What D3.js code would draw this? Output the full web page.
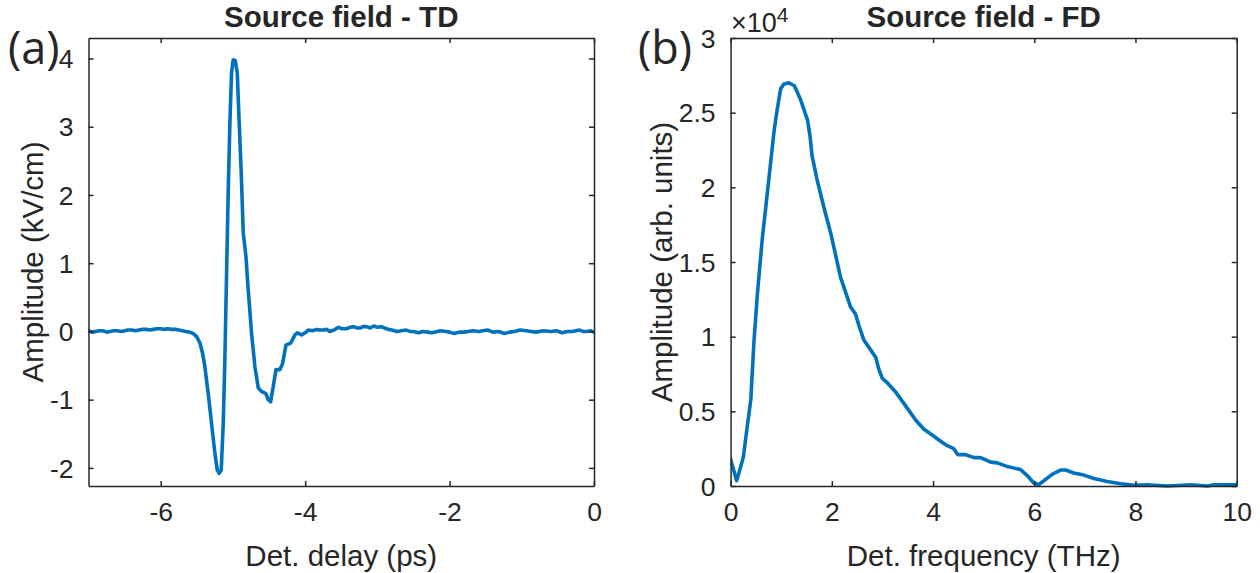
<!DOCTYPE html>
<html>
<head>
<meta charset="utf-8">
<script src="https://cdn.jsdelivr.net/npm/d3@7"></script>
<style>
  html, body { margin: 0; padding: 0; background: #fff; }
  svg { display: block; }
  text { font-family: "Liberation Sans", Arial, Helvetica, sans-serif; fill: #262626; }
</style>
</head>
<body>
<svg id="chart" width="1260" height="573"></svg>
<script>
// ---------- Data ----------
// Time domain: detector delay (ps) and amplitude (kV/cm)
const tdDelay = [
  -7.0, -6.95, -6.9, -6.85, -6.8, -6.75, -6.7, -6.65, -6.6, -6.55, -6.5, -6.45, -6.4, -6.35, -6.3, -6.25,
  -6.2, -6.15, -6.1, -6.05, -6.0, -5.95, -5.9, -5.85, -5.8, -5.75, -5.7, -5.65, -5.6, -5.55, -5.5,
  -5.457, -5.42, -5.388, -5.342, -5.296, -5.249, -5.217, -5.19, -5.162, -5.134, -5.111, -5.088,
  -5.065, -5.042, -5.019, -4.996, -4.968, -4.94, -4.913, -4.885, -4.857, -4.82, -4.788, -4.742,
  -4.695, -4.649, -4.603, -4.543, -4.511, -4.478, -4.442, -4.404, -4.349, -4.312, -4.266, -4.2,
  -4.141, -4.109, -4.049, -4.0, -3.957, -3.9, -3.84, -3.8, -3.75, -3.7, -3.66, -3.6, -3.54, -3.49, -3.43, -3.38,
  -3.33, -3.28, -3.24, -3.2, -3.15, -3.1, -3.05, -3.0, -2.95, -2.9, -2.85, -2.8, -2.73, -2.67, -2.6, -2.55,
  -2.5, -2.43, -2.37, -2.3, -2.25, -2.2, -2.13, -2.05, -2.0, -1.935, -1.87, -1.8, -1.74, -1.68, -1.6,
  -1.54, -1.47, -1.4, -1.32, -1.24, -1.17, -1.1, -1.02, -0.94, -0.87, -0.8, -0.7, -0.6, -0.52,
  -0.446, -0.37, -0.3, -0.25, -0.2, -0.15, -0.1, -0.05, 0.0
];
const tdAmp = [
  0.01, -0.01, 0.00, 0.01, 0.01, -0.01, 0.00, 0.01, 0.01, 0.00, 0.01, 0.02, 0.02, 0.01, 0.02, 0.03,
  0.03, 0.02, 0.03, 0.04, 0.04, 0.03, 0.04, 0.03, 0.03, 0.02, 0.01, 0.00, -0.01, -0.03, -0.08,
  -0.17, -0.32, -0.52, -0.91, -1.35, -1.79, -2.03, -2.08, -2.03, -1.35, -0.37, 0.85,
  2.07, 3.05, 3.79, 3.98, 3.97, 3.79, 3.05, 2.32, 1.44, 1.10, 0.61, -0.03,
  -0.52, -0.83, -0.88, -0.91, -1.00, -1.03, -0.81, -0.56, -0.56, -0.47, -0.20, -0.17,
  -0.05, -0.02, -0.05, -0.02, 0.02, 0.01, 0.03, 0.02, 0.02, 0.03, 0.00, 0.02, 0.06, 0.04, 0.04, 0.06,
  0.07, 0.05, 0.05, 0.07, 0.07, 0.05, 0.08, 0.06, 0.07, 0.05, 0.03, 0.02, 0.00, 0.01, 0.02, 0.00,
  0.00, -0.02, 0.00, -0.01, -0.02, -0.01, 0.01, 0.00, -0.01, -0.03, -0.01, -0.01, 0.00, 0.01, 0.00,
  0.01, 0.02, -0.01, 0.00, -0.03, -0.01, 0.00, 0.02, 0.01, 0.00, -0.01, 0.01, 0.00, 0.01,
  -0.02, 0.00, 0.00, 0.01, 0.02, 0.00, 0.00, 0.01, -0.01
];

// Frequency domain: detector frequency (THz) and amplitude (arb. units)
const fdFreq = [
  0, 0.12, 0.25, 0.33, 0.40, 0.46, 0.53, 0.63, 0.69, 0.76, 0.86, 0.92, 0.99, 1.05, 1.15, 1.26,
  1.38, 1.52, 1.57, 1.61, 1.71, 1.84, 1.98, 2.08, 2.17, 2.25, 2.37, 2.47, 2.54, 2.63, 2.73, 2.87,
  2.93, 3.00, 3.10, 3.26, 3.43, 3.66, 3.82, 3.99, 4.15, 4.28, 4.41, 4.49, 4.64, 4.81, 4.94, 5.14,
  5.27, 5.47, 5.73, 5.86, 5.99, 6.09, 6.19, 6.36, 6.52, 6.62, 6.78, 6.98, 7.18, 7.44, 7.71, 7.97,
  8.23, 8.63, 9.09, 9.42, 9.55, 10
];
const fdAmp = [
  1800, 350, 1900, 4000, 5800, 9600, 12900, 16700, 18500, 20700, 23800, 25200, 26600, 26900, 27000, 26800,
  25900, 24500, 23400, 22100, 20500, 18700, 16900, 15400, 14000, 13200, 12000, 11500, 10700, 9800, 9300, 8600,
  7800, 7200, 6900, 6300, 5500, 4400, 3800, 3400, 3000, 2700, 2500, 2100, 2100, 1900, 1900, 1600,
  1550, 1300, 1100, 700, 200, 100, 350, 800, 1070, 1070, 870, 730, 500, 300, 150, 50,
  80, 0, 80, 0, 80, 80
];

// Tick values / labels
const tdXTicks = [-6, -4, -2, 0];
const tdYTicks = [-2, -1, 0, 1, 2, 3, 4];
const fdXTicks = [0, 2, 4, 6, 8, 10];
const fdYTicks = [0, 5000, 10000, 15000, 20000, 25000, 30000];
const fdYTickLabels = ["0", "0.5", "1", "1.5", "2", "2.5", "3"];

// ---------- Drawing ----------
const svg = d3.select("#chart");
svg.append("rect").attr("width", 1260).attr("height", 573).attr("fill", "#fff");

const AX = "#262626";
const LINE = "#0072BD";
const TICKFONT = 26.5, LABELFONT = 29.5;
const plain = d => String(d);   // hyphen-minus like the original

function panel(opts) {
  const { x0, x1, y0, y1, xDomain, yDomain, xTicks, yTicks, yTickFmt, xs, ys,
          title, xLabel, yLabel, yLabelX, tag, tagX } = opts;
  const x = d3.scaleLinear().domain(xDomain).range([x0, x1]);
  const y = d3.scaleLinear().domain(yDomain).range([y1, y0]);
  const g = svg.append("g");

  const cid = "clip" + tag.replace(/\W/g, "");
  svg.append("clipPath").attr("id", cid).append("rect")
    .attr("x", x0).attr("y", y0 - 2).attr("width", x1 - x0).attr("height", y1 - y0 + 4);
  const pts = xs.map((v, i) => [v, ys[i]]);
  g.append("path").datum(pts)
    .attr("clip-path", `url(#${cid})`)
    .attr("fill", "none").attr("stroke", LINE).attr("stroke-width", 3.6)
    .attr("stroke-linejoin", "round").attr("stroke-linecap", "round")
    .attr("d", d3.line().x(d => x(d[0])).y(d => y(d[1])));

  const bottom = g.append("g").attr("transform", `translate(0,${y1})`)
    .call(d3.axisBottom(x).tickValues(xTicks).tickSizeInner(-5).tickSizeOuter(0).tickPadding(16).tickFormat(plain));
  const top = g.append("g").attr("transform", `translate(0,${y0})`)
    .call(d3.axisTop(x).tickValues(xTicks).tickSizeInner(-5).tickSizeOuter(0).tickFormat(""));
  const left = g.append("g").attr("transform", `translate(${x0},0)`)
    .call(d3.axisLeft(y).tickValues(yTicks).tickSizeInner(-5).tickSizeOuter(0).tickPadding(15).tickFormat(yTickFmt));
  const right = g.append("g").attr("transform", `translate(${x1},0)`)
    .call(d3.axisRight(y).tickValues(yTicks).tickSizeInner(-5).tickSizeOuter(0).tickFormat(""));

  [bottom, top, left, right].forEach(a => {
    a.select(".domain").attr("stroke", AX).attr("stroke-width", 1.5);
    a.selectAll(".tick line").attr("stroke", AX).attr("stroke-width", 1.5);
    a.selectAll(".tick text")
      .style("font-family", '"Liberation Sans", Arial, sans-serif')
      .style("font-size", TICKFONT + "px").attr("fill", AX);
  });
  left.selectAll(".tick text").attr("dy", "0.35em");
  bottom.selectAll(".tick text").attr("dy", "0.71em");

  g.append("text").attr("x", (x0 + x1) / 2).attr("y", 27)
    .attr("text-anchor", "middle").style("font-size", LABELFONT + "px")
    .style("font-weight", "bold").attr("fill", "#000").text(title);
  g.append("text").attr("x", (x0 + x1) / 2).attr("y", 566)
    .attr("text-anchor", "middle").style("font-size", LABELFONT + "px").text(xLabel);
  g.append("text").attr("transform", `translate(${yLabelX},${(y0 + y1) / 2}) rotate(-90)`)
    .attr("text-anchor", "middle").style("font-size", LABELFONT + "px").text(yLabel);
  svg.append("text").attr("x", tagX).attr("y", 64)
    .style("font-family", '"Open Sans", "Noto Sans", sans-serif')
    .style("font-size", "45px").attr("fill", "#000").text(tag);
  return { x, y, g };
}

panel({
  x0: 88.5, x1: 594, y0: 38, y1: 486,
  xDomain: [-7, 0], yDomain: [-2.265, 4.3],
  xTicks: tdXTicks, yTicks: tdYTicks, yTickFmt: plain,
  xs: tdDelay, ys: tdAmp,
  title: "Source field - TD", xLabel: "Det. delay (ps)", yLabel: "Amplitude (kV/cm)",
  yLabelX: 43, tag: "(a)", tagX: 8
});

const p2 = panel({
  x0: 730.6, x1: 1236.7, y0: 38, y1: 486,
  xDomain: [0, 10], yDomain: [0, 30000],
  xTicks: fdXTicks, yTicks: fdYTicks, yTickFmt: (d, i) => fdYTickLabels[i],
  xs: fdFreq, ys: fdAmp,
  title: "Source field - FD", xLabel: "Det. frequency (THz)", yLabel: "Amplitude (arb. units)",
  yLabelX: 671.5, tag: "(b)", tagX: 638
});

const ex = p2.g.append("text").attr("x", 731).attr("y", 32).style("font-size", "27px").attr("fill", AX);
ex.append("tspan").text("\u00D710");
ex.append("tspan").attr("dy", -10).style("font-size", "21px").text("4");
</script>
</body>
</html>
